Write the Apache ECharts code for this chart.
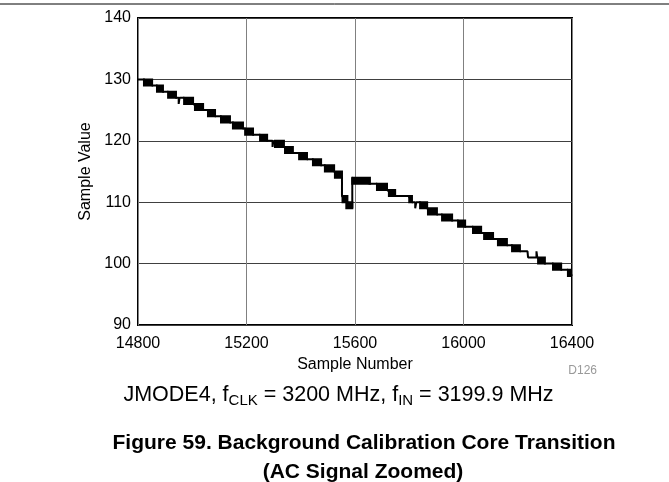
<!DOCTYPE html>
<html>
<head>
<meta charset="utf-8">
<script src="https://cdn.jsdelivr.net/npm/echarts@6/dist/echarts.min.js"></script>
<style>
html,body{margin:0;padding:0;background:#fff;}
#chart{width:669px;height:482px;}
</style>
</head>
<body>
<div id="chart"></div>
<script>
// Axis settings
const xMin = 14800, xMax = 16400, xStep = 400;
const yMin = 90, yMax = 140, yStep = 10;

// Thin trace of the sample values: [sample number, sample value]
const trace = [
  [14800,130],[14822,130],[14852,129],
  [14870,129],[14892,128],
  [14911,128],[14940,127],
  [14950,127],[14950,126],[14953,126],[14953,127],
  [14970,127],[15003,126],
  [15010,126],[15040,125],
  [15058,125],[15084,124],
  [15106,124],[15139,123],
  [15150,123],[15187,122],
  [15195,122],[15224,121],
  [15250,121],[15276,120],
  [15296,120],[15296,119],[15299,119],[15299,120],
  [15305,120],[15338,119],
  [15342,119],[15371,118],
  [15394,118],[15423,117],
  [15445,117],[15475,116],
  [15489,116],[15523,115],
  [15526,115],[15552,114],
  [15552,111],[15572,110],[15590,109],
  [15590,114],[15655,113],
  [15681,113],[15718,112],
  [15725,112],[15748,111],
  [15798,111],[15810,110],
  [15822,110],[15822,109],[15826,109],[15826,110],
  [15840,110],[15866,109],
  [15869,109],[15902,108],
  [15921,108],[15958,107],
  [15980,107],[16006,106],
  [16035,106],[16065,105],
  [16076,105],[16109,104],
  [16127,104],[16160,103],
  [16179,103],[16208,102],
  [16236,102],[16238,101],
  [16269,101],[16269,102],[16272,102],[16272,101],
  [16275,101],[16300,100],
  [16330,100],[16360,99],
  [16385,99],[16400,98]
];

// Code-toggling regions: [start sample, end sample, upper code] (toggles between code and code-1)
const toggles = [
  [14822,14852,130],[14870,14892,129],[14911,14940,128],[14970,15003,127],
  [15010,15040,126],[15058,15084,125],[15106,15139,124],[15150,15187,123],
  [15195,15224,122],[15250,15276,121],[15305,15338,120],[15342,15371,119],
  [15394,15423,118],[15445,15475,117],[15489,15523,116],[15526,15552,115],
  [15554,15572,111],[15568,15590,110],[15590,15655,114],[15681,15718,113],
  [15725,15748,112],[15800,15810,111],[15840,15866,110],[15869,15902,109],
  [15921,15958,108],[15980,16006,107],[16035,16065,106],[16076,16109,105],
  [16127,16160,104],[16179,16208,103],[16275,16300,101],[16330,16360,100],
  [16385,16400,99]
];

const chart = echarts.init(document.getElementById('chart'), null, {renderer:'canvas'});
const font = 'Liberation Sans, Arial, sans-serif';

chart.setOption({
  animation: false,
  backgroundColor: '#fff',
  grid: {left:138, right:97, top:18, bottom:157, show:true, borderColor:'#000', borderWidth:2, backgroundColor:'transparent'},
  xAxis: {
    type:'value', min:xMin, max:xMax, interval:xStep,
    name:'Sample Number', nameLocation:'middle', nameGap:30,
    nameTextStyle:{fontFamily:font, fontSize:16, color:'#000'},
    axisLine:{show:false}, axisTick:{show:false},
    axisLabel:{fontFamily:font, fontSize:16, color:'#000', margin:11, formatter:function(v){return String(v);}},
    splitLine:{show:true, lineStyle:{color:'#808080', width:1}}
  },
  yAxis: {
    type:'value', min:yMin, max:yMax, interval:yStep,
    name:'Sample Value', nameLocation:'middle', nameGap:42,
    nameTextStyle:{fontFamily:font, fontSize:16, color:'#000'},
    axisLine:{show:false}, axisTick:{show:false},
    axisLabel:{fontFamily:font, fontSize:16, color:'#000', margin:7, formatter:function(v){return String(v);}},
    splitLine:{show:true, lineStyle:{color:'#404040', width:1}}
  },
  series: [
    {
      type:'line', data:trace, showSymbol:false, symbol:'none',
      lineStyle:{color:'#000', width:2}, z:3
    },
    {
      type:'custom', data:toggles, z:4, clip:true,
      encode:{x:[0,1], y:2},
      renderItem: function(params, api){
        const p0 = api.coord([api.value(0), api.value(2)]);
        const p1 = api.coord([api.value(1), api.value(2) - 1]);
        return {
          type:'rect',
          shape:{x:p0[0], y:p0[1], width:p1[0]-p0[0], height:p1[1]-p0[1]},
          style:{fill:'#000', stroke:'#000', lineWidth:2}
        };
      }
    }
  ],
  graphic: [
    {type:'line', shape:{x1:0, y1:4, x2:669, y2:4}, style:{stroke:'#000', lineWidth:1}},
    {type:'text', x:597, y:371, style:{text:'D126', fontFamily:font, fontSize:12, fill:'#999', align:'right', verticalAlign:'middle'}},
    {type:'text', x:338.5, y:395.5, style:{
      text:'JMODE4, f{s|CLK} = 3200 MHz, f{s|IN} = 3199.9 MHz',
      fontFamily:font, fontSize:21.5, fill:'#000', lineHeight:26,
      align:'center', verticalAlign:'middle',
      rich:{s:{fontFamily:font, fontSize:15, lineHeight:13, verticalAlign:'bottom', fill:'#000'}}
    }},
    {type:'text', x:364, y:443.5, style:{
      text:'Figure 59. Background Calibration Core Transition',
      fontFamily:font, fontSize:21, fontWeight:'bold', fill:'#000', align:'center', verticalAlign:'middle'
    }},
    {type:'text', x:363, y:472, style:{
      text:'(AC Signal Zoomed)',
      fontFamily:font, fontSize:21, fontWeight:'bold', fill:'#000', align:'center', verticalAlign:'middle'
    }}
  ]
});
</script>
</body>
</html>
